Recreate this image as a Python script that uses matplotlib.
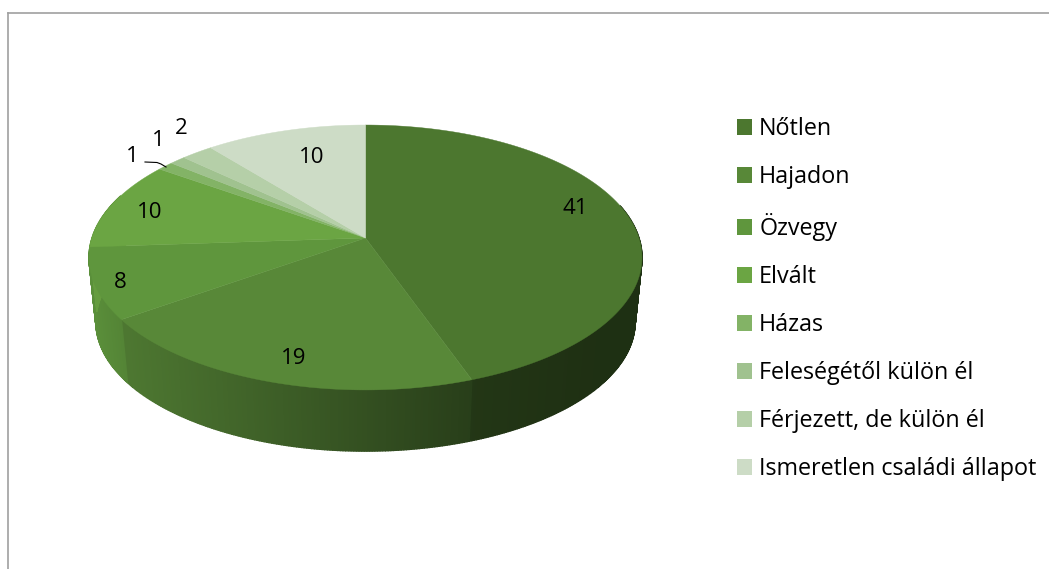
import numpy as np
import matplotlib
matplotlib.use('Agg')
import matplotlib.pyplot as plt
from matplotlib.colors import to_rgb
from matplotlib.lines import Line2D
from matplotlib.patches import Patch

nevek = ['Nőtlen', 'Hajadon', 'Özvegy', 'Elvált', 'Házas',
         'Feleségétől külön él', 'Férjezett, de külön él',
         'Ismeretlen családi állapot']
ertekek = [41, 19, 8, 10, 1, 1, 2, 10]

szinek = ['#4c772f', '#588838', '#5f963d', '#6ba543', '#83b366',
          '#a0c28f', '#b5cfa8', '#cddcc6']
cimke_xy = [(575, 208), (294, 358), (120, 282), (150, 212),
            (132, 156), (158, 140), (181, 128), (312, 157)]

plt.rcParams['font.family'] = ['Open Sans', 'DejaVu Sans']


# kor perspektivaban: a kozeppont nem az ellipszis kozepen van
def perem(theta, skala=1.0, lejjebb=0.0):
    u = np.sin(theta)
    v = np.cos(theta)
    n = 1 + 0.147 * v
    x = 365.5 + skala * 273.5 * u / n
    y = 238 + lejjebb - skala * 129.6 * v / n
    return x, y


def arnyek(x):
    # balrol jobbra sotetedik
    return np.interp(x, [90, 122, 470, 600, 642], [0.95, 0.88, 0.46, 0.40, 0.40])


def fal(t0, t1, szin):
    x0, y0 = perem(t0)
    x1, y1 = perem(t1)
    x2, y2 = perem(t1, 0.975, 65)
    x3, y3 = perem(t0, 0.975, 65)
    c = np.array(to_rgb(szin)) * arnyek((x0 + x1) / 2)
    ax.fill([x0, x1, x2, x3], [y0, y1, y2, y3], color=c, lw=1.0, zorder=1)


fig = plt.figure(figsize=(10.49, 5.69), dpi=100)
ax = fig.add_axes([0, 0, 1, 1])
ax.set_xlim(0, 1049)
ax.set_ylim(569, 0)
ax.axis('off')

szogek = np.concatenate([[0], np.cumsum(ertekek)]) / np.sum(ertekek) * 2 * np.pi

# oldalfal, csak az elulso resz latszik
for i, szin in enumerate(szinek):
    a2 = max(szogek[i], np.radians(75))
    b2 = min(szogek[i + 1], np.radians(290))
    if b2 <= a2:
        continue
    t = np.linspace(a2, b2, max(int((b2 - a2) * 120), 2))
    for t0, t1 in zip(t[:-1], t[1:]):
        fal(t0, t1, szin)

# teteje
for i, szin in enumerate(szinek):
    t = np.linspace(szogek[i], szogek[i + 1], 120)
    x, y = perem(t)
    ax.fill(np.r_[365.5, x], np.r_[238, y], color=szin, lw=0.3, zorder=2)

# cimkek
for ertek, (x, y) in zip(ertekek, cimke_xy):
    ax.text(x, y, str(ertek), fontsize=16, color='black', ha='center', va='center', zorder=3)
ax.plot([145, 157, 161, 166], [162, 162.5, 164, 167], color='black', lw=0.8, zorder=3)

# jelmagyarazat
kezek = [Patch(facecolor=s, edgecolor='none') for s in szinek]
ax.legend(kezek, nevek, loc='upper left', bbox_to_anchor=(0.7026, 0.794), frameon=False,
          fontsize=16.8, handlelength=0.65, handleheight=0.65, handletextpad=0.3,
          labelspacing=1.03, borderpad=0, borderaxespad=0)

# keret
fig.add_artist(Line2D([7.5 / 1049, 7.5 / 1049], [0, 1 - 13 / 569], color='#a0a0a0', lw=1.2))
fig.add_artist(Line2D([7.5 / 1049, 1], [1 - 13 / 569, 1 - 13 / 569], color='#a0a0a0', lw=1.2))

fig.savefig('out.png', dpi=100)
